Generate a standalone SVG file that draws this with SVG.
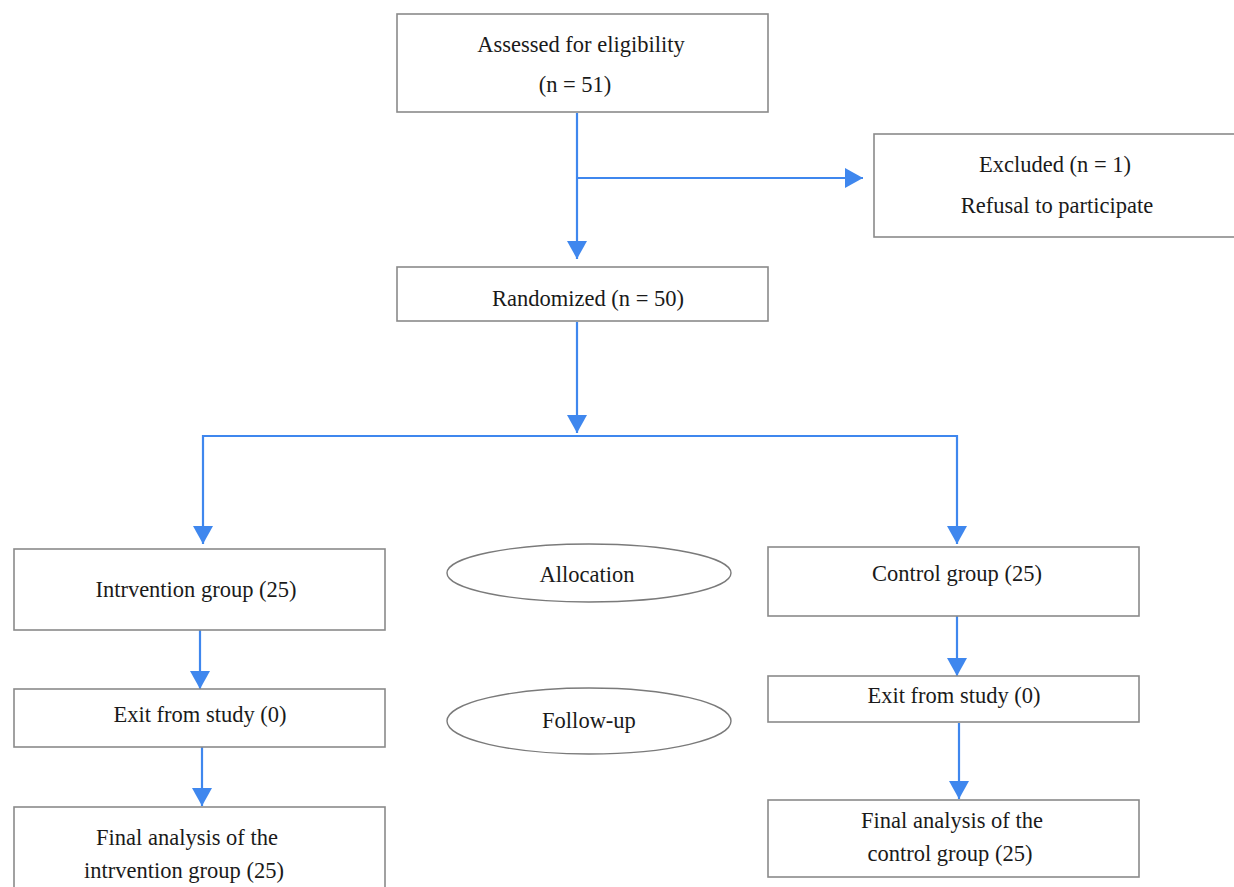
<svg xmlns="http://www.w3.org/2000/svg" width="1234" height="887" viewBox="0 0 1234 887">
<style>
.box{fill:#fff;stroke:#8a8a8a;stroke-width:1.6}
.ell{fill:#fff;stroke:#7a7a7a;stroke-width:1.4}
.t{font-family:"Liberation Serif","DejaVu Serif",serif;font-size:22.5px;fill:#1a1a1a;text-anchor:middle}
.c{fill:none;stroke:#3f87ee;stroke-width:2.2}
</style>
<defs>
<marker id="ah" markerUnits="userSpaceOnUse" markerWidth="18" markerHeight="20" refX="18" refY="10" orient="auto" viewBox="0 0 18 20">
<path d="M0,0 L18,10 L0,20 z" fill="#3f87ee"/>
</marker>
</defs>
<rect width="1234" height="887" fill="#fff"/>
<g id="connectors">
<line class="c" x1="577" y1="113" x2="577" y2="259" marker-end="url(#ah)"/>
<line class="c" x1="577" y1="178" x2="863" y2="178" marker-end="url(#ah)"/>
<line class="c" x1="577" y1="322" x2="577" y2="433" marker-end="url(#ah)"/>
<line class="c" x1="203" y1="436" x2="957" y2="436"/>
<line class="c" x1="203" y1="435" x2="203" y2="544" marker-end="url(#ah)"/>
<line class="c" x1="957" y1="435" x2="957" y2="544" marker-end="url(#ah)"/>
<line class="c" x1="200" y1="630" x2="200" y2="689" marker-end="url(#ah)"/>
<line class="c" x1="202" y1="747" x2="202" y2="806" marker-end="url(#ah)"/>
<line class="c" x1="957" y1="616" x2="957" y2="676" marker-end="url(#ah)"/>
<line class="c" x1="959" y1="723" x2="959" y2="799" marker-end="url(#ah)"/>
</g>
<g id="assessed">
<rect class="box" x="397" y="14" width="371" height="98"/>
<text class="t" x="581" y="52">Assessed for eligibility</text>
<text class="t" x="575" y="92">(n = 51)</text>
</g>
<g id="excluded">
<rect class="box" x="874" y="134" width="370" height="103"/>
<text class="t" x="1055" y="172">Excluded (n = 1)</text>
<text class="t" x="1057" y="213">Refusal to participate</text>
</g>
<g id="randomized">
<rect class="box" x="397" y="267" width="371" height="54"/>
<text class="t" x="588" y="306">Randomized (n = 50)</text>
</g>
<g id="intervention">
<rect class="box" x="14" y="549" width="371" height="81"/>
<text class="t" x="196" y="597">Intrvention group (25)</text>
</g>
<g id="allocation">
<ellipse class="ell" cx="589" cy="573" rx="142" ry="29"/>
<text class="t" x="587" y="582">Allocation</text>
</g>
<g id="control">
<rect class="box" x="768" y="547" width="371" height="69"/>
<text class="t" x="957" y="581">Control group (25)</text>
</g>
<g id="exit-left">
<rect class="box" x="14" y="689" width="371" height="58"/>
<text class="t" x="200" y="722">Exit from study (0)</text>
</g>
<g id="followup">
<ellipse class="ell" cx="589" cy="721" rx="142" ry="33"/>
<text class="t" x="589" y="728">Follow-up</text>
</g>
<g id="exit-right">
<rect class="box" x="768" y="676" width="371" height="46"/>
<text class="t" x="954" y="703">Exit from study (0)</text>
</g>
<g id="final-left">
<rect class="box" x="14" y="807" width="371" height="90"/>
<text class="t" x="187" y="845">Final analysis of the</text>
<text class="t" x="184" y="878">intrvention group (25)</text>
</g>
<g id="final-right">
<rect class="box" x="768" y="800" width="371" height="77"/>
<text class="t" x="952" y="828">Final analysis of the</text>
<text class="t" x="950" y="861">control group (25)</text>
</g>
</svg>
